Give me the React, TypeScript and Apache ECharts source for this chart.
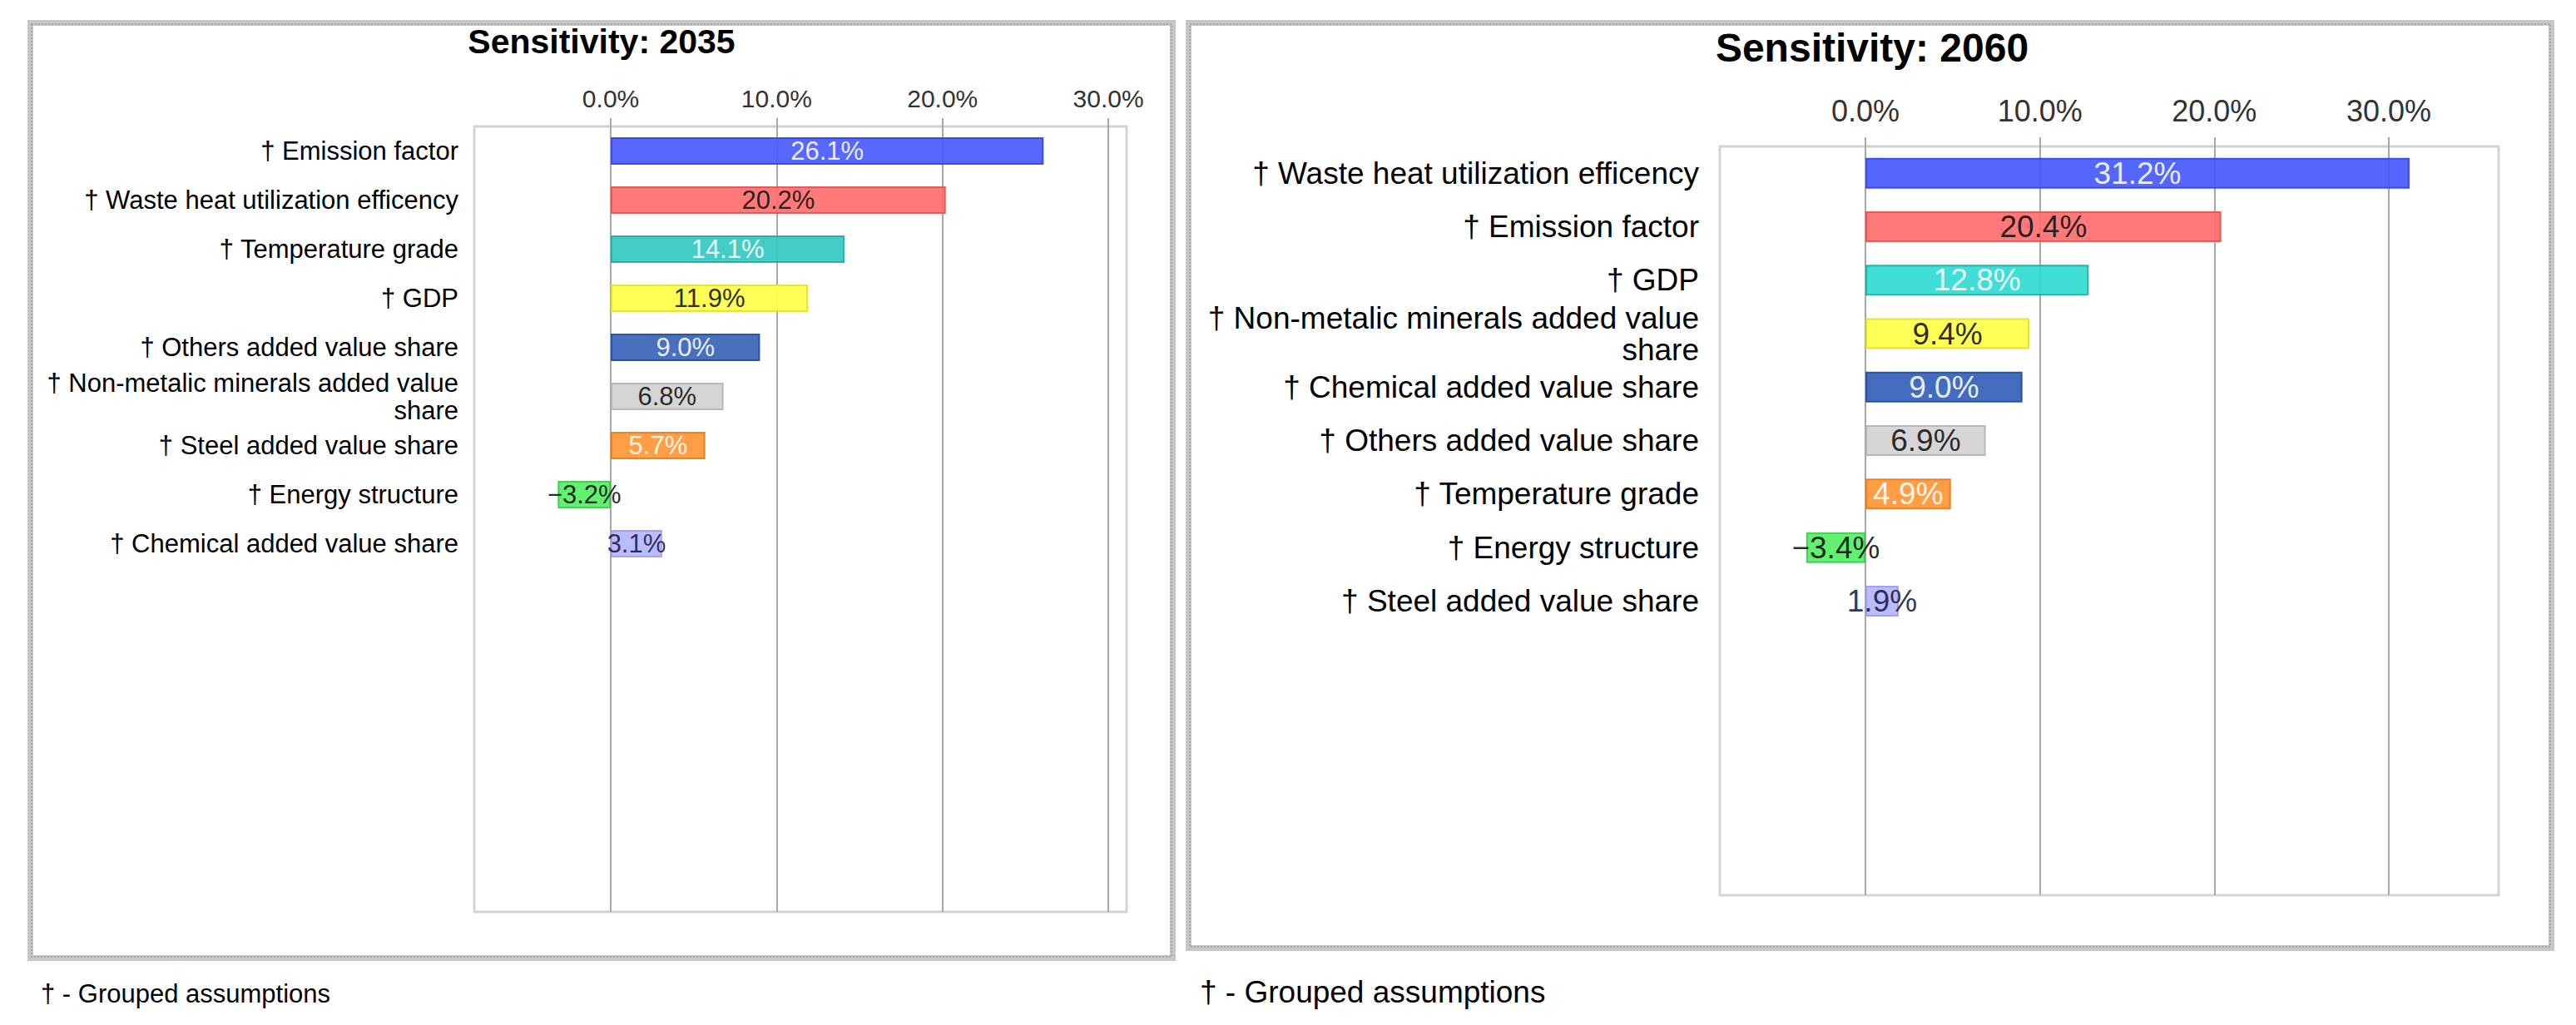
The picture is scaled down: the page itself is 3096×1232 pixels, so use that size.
import React, { useEffect, useRef } from "react";
import * as echarts from "echarts";

const categories2035 = [
  "† Emission factor",
  "† Waste heat utilization efficency",
  "† Temperature grade",
  "† GDP",
  "† Others added value share",
  "† Non-metalic minerals added value\nshare",
  "† Steel added value share",
  "† Energy structure",
  "† Chemical added value share",
];
const values2035 = [26.1, 20.2, 14.1, 11.9, 9.0, 6.8, 5.7, -3.2, 3.1];

const categories2060 = [
  "† Waste heat utilization efficency",
  "† Emission factor",
  "† GDP",
  "† Non-metalic minerals added value\nshare",
  "† Chemical added value share",
  "† Others added value share",
  "† Temperature grade",
  "† Energy structure",
  "† Steel added value share",
];
const values2060 = [31.2, 20.4, 12.8, 9.4, 9.0, 6.9, 4.9, -3.4, 1.9];

const tickValues = [0, 10, 20, 30];

const barColors2035 = ["#4658ff", "#ff6a6a", "#30c8c0", "#ffff44", "#3560b8", "#d0d0d0", "#ff9430", "#50ee60", "#b4b4ff"];
const barColors2060 = ["#4255ff", "#ff6a6a", "#2adcd4", "#ffff44", "#2f5cb8", "#d2d2d2", "#ff9430", "#50ee60", "#b4b4ff"];
const borderColors = ["#3444e0", "#e85050", "#22aaa4", "#e0e030", "#204a9c", "#b4b4b4", "#ee7a14", "#3ccc4c", "#9c9cf0"];
const labelColors = ["#ffffff", "#111111", "#ffffff", "#111111", "#ffffff", "#111111", "#ffffff", "#111111", "#1a1a44"];

const FONT = '"Liberation Sans", Arial, sans-serif';

function pad(cats: string[], n: number) {
  const out = cats.slice();
  while (out.length < n) out.push("");
  return out;
}

function fmt(v: number) {
  const s = Math.abs(v).toFixed(1) + "%";
  return v < 0 ? "\u2212" + s : s;
}

function barData(values: number[], colors: string[], n: number) {
  const out: any[] = values.map((v, i) => ({
    value: v,
    itemStyle: { color: colors[i], borderColor: borderColors[i], borderWidth: 2, opacity: 0.9 },
    label: { color: labelColors[i] },
  }));
  while (out.length < n) out.push("-");
  return out;
}

function frame(x: number, y: number, w: number, h: number) {
  return [
    {
      type: "rect",
      shape: { x: x + 3.5, y: y + 3.5, width: w - 7, height: h - 7 },
      style: { fill: "none", stroke: "#c6c6c6", lineWidth: 7 },
      silent: true,
    },
    {
      type: "rect",
      shape: { x: x + 5, y: y + 5, width: w - 10, height: h - 10 },
      style: { fill: "none", stroke: "#9c9c9c", lineWidth: 1.5, lineDash: [2, 2] },
      silent: true,
    },
  ];
}

export default function App() {
  const ref = useRef<HTMLDivElement>(null);
  useEffect(() => {
    if (!ref.current) return;
    const chart = echarts.init(ref.current, undefined, { renderer: "svg" });
    const slotsL = 16;
    const slotsR = 14;
    const xAxisCommon = (fontSize: number, margin: number, tickLen: number) => ({
      type: "value",
      position: "top",
      axisLine: { show: false },
      axisTick: { show: true, length: tickLen, customValues: tickValues, lineStyle: { color: "#a8a8a8", width: 2 } },
      axisLabel: {
        customValues: tickValues,
        formatter: (v: number) => v.toFixed(1) + "%",
        fontSize,
        fontFamily: FONT,
        color: "#333333",
        margin,
      },
      splitLine: { show: true, lineStyle: { color: "#a8a8a8", width: 2 } },
    });
    const yAxisCommon = (cats: string[], n: number, fontSize: number, margin: number, lh: number) => ({
      type: "category",
      inverse: true,
      data: pad(cats, n),
      axisLine: { show: false },
      axisTick: { show: false },
      splitLine: { show: false },
      axisLabel: { interval: 0, fontSize, fontFamily: FONT, color: "#000000", margin, lineHeight: lh },
    });
    const option: any = {
      animation: false,
      backgroundColor: "#ffffff",
      grid: [
        { left: 570, top: 152, width: 784, height: 944, show: true, borderColor: "#d4d4d4", borderWidth: 3 },
        { left: 2067, top: 176, width: 936, height: 900, show: true, borderColor: "#d4d4d4", borderWidth: 3 },
      ],
      xAxis: [
        { gridIndex: 0, min: -8.23, max: 31.1, ...xAxisCommon(30, 19, 10) },
        { gridIndex: 1, min: -8.35, max: 36.3, ...xAxisCommon(36, 25, 11) },
      ],
      yAxis: [
        { gridIndex: 0, ...yAxisCommon(categories2035, slotsL, 31, 19, 33) },
        { gridIndex: 1, ...yAxisCommon(categories2060, slotsR, 37, 25, 38) },
      ],
      series: [
        {
          type: "bar",
          xAxisIndex: 0,
          yAxisIndex: 0,
          barWidth: 33,
          data: barData(values2035, barColors2035, slotsL),
          label: {
            show: true,
            position: "inside",
            fontSize: 31,
            fontFamily: FONT,
            textBorderWidth: 0,
            formatter: (p: any) => fmt(p.value),
          },
        },
        {
          type: "bar",
          xAxisIndex: 1,
          yAxisIndex: 1,
          barWidth: 37,
          data: barData(values2060, barColors2060, slotsR),
          label: {
            show: true,
            position: "inside",
            fontSize: 37,
            fontFamily: FONT,
            textBorderWidth: 0,
            formatter: (p: any) => fmt(p.value),
          },
        },
      ],
      graphic: [
        ...frame(33, 24, 1380, 1131),
        ...frame(1425, 24, 1645, 1119),
        {
          type: "text",
          x: 723,
          y: 50,
          style: { text: "Sensitivity: 2035", font: `bold 41px ${FONT}`, fill: "#000", textAlign: "center", textVerticalAlign: "middle" },
        },
        {
          type: "text",
          x: 2250,
          y: 57,
          style: { text: "Sensitivity: 2060", font: `bold 48px ${FONT}`, fill: "#000", textAlign: "center", textVerticalAlign: "middle" },
        },
        {
          type: "text",
          x: 49,
          y: 1194,
          style: { text: "† - Grouped assumptions", font: `31px ${FONT}`, fill: "#000", textAlign: "left", textVerticalAlign: "middle" },
        },
        {
          type: "text",
          x: 1442,
          y: 1192,
          style: { text: "† - Grouped assumptions", font: `37px ${FONT}`, fill: "#000", textAlign: "left", textVerticalAlign: "middle" },
        },
      ],
    };
    chart.setOption(option);
    return () => chart.dispose();
  }, []);
  return (
    <div
      ref={ref}
      style={{ position: "fixed", left: 0, top: 0, width: 3096, height: 1232, background: "#fff" }}
    />
  );
}
